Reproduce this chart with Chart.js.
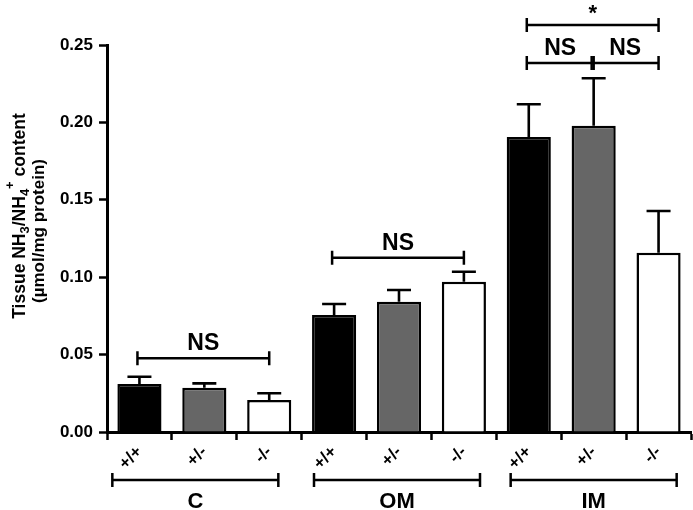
<!DOCTYPE html>
<html>
<head>
<meta charset="utf-8">
<script src="https://cdn.jsdelivr.net/npm/chart.js@4"></script>
<style>
  body { margin: 0; background: #fff; }
  canvas { display: block; }
</style>
</head>
<body>
<canvas id="chart" width="693" height="510"></canvas>
<script>
// data
const genotypes = ['+/+', '+/-', '-/-', '+/+', '+/-', '-/-', '+/+', '+/-', '-/-'];
const groups = ['C', 'OM', 'IM'];
const means = [0.031, 0.0286, 0.0207, 0.0756, 0.0842, 0.0971, 0.1906, 0.1979, 0.1158];
const sems = [0.0047, 0.0028, 0.0043, 0.0071, 0.0075, 0.0064, 0.0211, 0.0306, 0.027];
const yTicks = [0, 0.05, 0.10, 0.15, 0.20, 0.25];
// significance brackets: bar index from/to, height in data units, label
const sigFrom = [0, 3, 6, 7, 6];
const sigTo = [2, 5, 7, 8, 8];
const sigY = [0.0476, 0.1126, 0.2384, 0.2384, 0.263];
const sigText = ['NS', 'NS', 'NS', 'NS', '*'];

const FONT = 'Arial, "Liberation Sans", sans-serif';
const barColors = ['#000000', '#666666', '#ffffff'];
const groupShift = [-9, -2, 0];

// error bars (upper only)
const errorBars = {
  id: 'errorBars',
  afterDatasetsDraw(chart) {
    const ctx = chart.ctx;
    const meta = chart.getDatasetMeta(0);
    const y = chart.scales.y;
    ctx.save();
    ctx.strokeStyle = '#000';
    ctx.lineWidth = 2.6;
    meta.data.forEach((bar, i) => {
      const top = y.getPixelForValue(means[i] + sems[i]);
      ctx.beginPath();
      ctx.moveTo(bar.x, bar.y);
      ctx.lineTo(bar.x, top);
      ctx.moveTo(bar.x - 12, top);
      ctx.lineTo(bar.x + 12, top);
      ctx.stroke();
    });
    ctx.restore();
  }
};

// brackets, group labels, y title
const extras = {
  id: 'extras',
  afterDraw(chart) {
    const ctx = chart.ctx;
    const x = chart.scales.x;
    const y = chart.scales.y;
    ctx.save();
    ctx.strokeStyle = '#000';
    ctx.fillStyle = '#000';
    ctx.lineWidth = 2.5;

    // significance brackets
    ctx.textAlign = 'center';
    sigFrom.forEach((f, k) => {
      const x1 = x.getPixelForValue(f) - 2;
      const x2 = x.getPixelForValue(sigTo[k]);
      const py = y.getPixelForValue(sigY[k]);
      ctx.beginPath();
      ctx.moveTo(x1, py); ctx.lineTo(x2, py);
      ctx.moveTo(x1, py - 7); ctx.lineTo(x1, py + 7);
      ctx.moveTo(x2, py - 7); ctx.lineTo(x2, py + 7);
      ctx.stroke();
      ctx.textBaseline = 'alphabetic';
      if (sigText[k] === '*') {
        ctx.font = 'bold 22px ' + FONT;
        ctx.fillText('*', (x1 + x2) / 2, py - 5);
      } else {
        ctx.font = 'bold 23px ' + FONT;
        ctx.fillText(sigText[k], (x1 + x2) / 2, py - 8);
      }
    });

    // group brackets under the axis
    groups.forEach((g, i) => {
      const c = (x.getPixelForValue(i * 3) + x.getPixelForValue(i * 3 + 2)) / 2 + groupShift[i];
      const x1 = c - 83, x2 = c + 83, py = 480;
      ctx.beginPath();
      ctx.moveTo(x1, py); ctx.lineTo(x2, py);
      ctx.moveTo(x1, py - 7); ctx.lineTo(x1, py + 7);
      ctx.moveTo(x2, py - 7); ctx.lineTo(x2, py + 7);
      ctx.stroke();
      ctx.font = 'bold 22px ' + FONT;
      ctx.textBaseline = 'alphabetic';
      ctx.fillText(g, c, 508);
    });

    // y axis title with sub/superscripts
    drawRuns(ctx, 25, 216, [
      { t: 'Tissue NH', s: 17.5, d: 0 },
      { t: '3', s: 13, d: 4 },
      { t: '/NH', s: 17.5, d: 0 },
      { t: '4', s: 13, d: 4 },
      { t: '+', s: 13, d: -11 },
      { t: ' content', s: 17.5, d: 0 }
    ]);
    drawRuns(ctx, 44, 231, [{ t: '(\u00b5mol/mg protein)', s: 17, d: 0 }]);
    ctx.restore();
  }
};

function drawRuns(ctx, bx, cy, runs) {
  let total = 0;
  runs.forEach(r => {
    ctx.font = 'bold ' + r.s + 'px ' + FONT;
    r.w = ctx.measureText(r.t).width;
    total += r.w;
  });
  ctx.save();
  ctx.translate(bx, cy);
  ctx.rotate(-Math.PI / 2);
  ctx.textAlign = 'left';
  ctx.textBaseline = 'alphabetic';
  let u = -total / 2;
  runs.forEach(r => {
    ctx.font = 'bold ' + r.s + 'px ' + FONT;
    ctx.fillText(r.t, u, r.d);
    u += r.w;
  });
  ctx.restore();
}

new Chart(document.getElementById('chart').getContext('2d'), {
  type: 'bar',
  data: {
    labels: genotypes,
    datasets: [{
      data: means,
      backgroundColor: genotypes.map((g, i) => barColors[i % 3]),
      borderColor: '#000',
      borderWidth: 2.5,
      barPercentage: 0.68,
      categoryPercentage: 1.0
    }]
  },
  options: {
    responsive: false,
    animation: false,
    layout: { padding: { top: 45, right: 2, left: 0, bottom: 0 } },
    plugins: { legend: { display: false }, tooltip: { enabled: false } },
    scales: {
      x: {
        afterFit(s) { s.height = 78; },
        grid: { drawOnChartArea: false, tickLength: 8, tickColor: '#000', tickWidth: 2.5 },
        border: { display: true, color: '#000', width: 3 },
        ticks: {
          color: '#000', font: { family: FONT, size: 17, weight: 'bold' },
          minRotation: 45, maxRotation: 45, autoSkip: false, padding: 2
        }
      },
      y: {
        min: 0, max: 0.25,
        afterFit(s) { s.width = 107; },
        afterBuildTicks(s) { s.ticks = yTicks.map(v => ({ value: v })); },
        grid: { drawOnChartArea: false, tickLength: 8, tickColor: '#000', tickWidth: 2.5 },
        border: { display: true, color: '#000', width: 3 },
        ticks: {
          color: '#000', font: { family: FONT, size: 17, weight: 'bold' },
          padding: 6,
          callback: v => v.toFixed(2)
        }
      }
    }
  },
  plugins: [errorBars, extras]
});
</script>
</body>
</html>
